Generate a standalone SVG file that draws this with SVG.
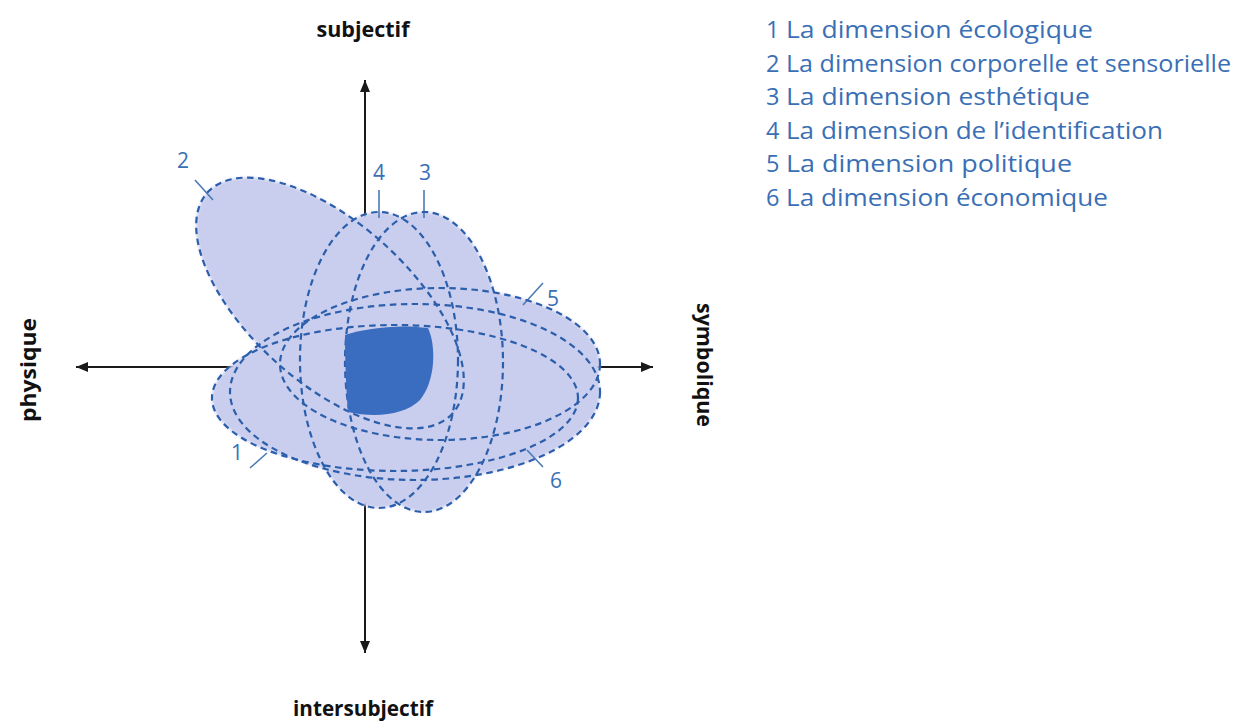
<svg xmlns="http://www.w3.org/2000/svg" width="1237" height="722" viewBox="0 0 1237 722">
<defs>
<style>
.fill{fill:#c9cdee;stroke:none}
.dash{fill:none;stroke:#2c5fab;stroke-width:2.2;stroke-dasharray:6.5 4.5}
.axis{stroke:#1a1a1a;stroke-width:2;fill:none}
.tick{stroke:#4a7ab5;stroke-width:1.6;fill:none}
.num{font-family:"Open Sans","Noto Sans",sans-serif;font-size:21px;fill:#3a6fb5}
.leg{font-family:"Open Sans","Noto Sans",sans-serif;font-size:23.5px;fill:#3a6fb5}
.ax{font-family:"Open Sans","Noto Sans",sans-serif;font-size:21px;font-weight:bold;fill:#111}
</style>
<marker id="ah" viewBox="0 0 12 10" refX="12" refY="5" markerWidth="12" markerHeight="10" markerUnits="userSpaceOnUse" orient="auto">
<path d="M0,0 L12,5 L0,10 z" fill="#1a1a1a"/>
</marker>
<filter id="soft" x="-10%" y="-10%" width="120%" height="120%"><feGaussianBlur stdDeviation="1.5"/></filter>
</defs>
<rect width="1237" height="722" fill="#fff"/>
<g id="axes">
<line class="axis" x1="365" y1="367" x2="365" y2="80" marker-end="url(#ah)"/>
<line class="axis" x1="365" y1="367" x2="365" y2="653" marker-end="url(#ah)"/>
<line class="axis" x1="365" y1="367" x2="76" y2="367" marker-end="url(#ah)"/>
<line class="axis" x1="365" y1="367" x2="653" y2="367" marker-end="url(#ah)"/>
</g>
<g id="fills" filter="url(#soft)">
<ellipse class="fill" cx="330" cy="303" rx="165" ry="80" transform="rotate(42 330 303)"/>
<ellipse class="fill" cx="379" cy="360" rx="79" ry="148"/>
<ellipse class="fill" cx="424" cy="362" rx="79" ry="150"/>
<ellipse class="fill" cx="395" cy="398" rx="183" ry="73"/>
<ellipse class="fill" cx="440" cy="364" rx="160" ry="76"/>
<ellipse class="fill" cx="415" cy="392" rx="185" ry="88"/>
</g>
<g id="connectors">
<line class="tick" x1="195" y1="180" x2="213" y2="200"/>
<line class="tick" x1="379" y1="190" x2="379" y2="218"/>
<line class="tick" x1="424" y1="190" x2="424" y2="218"/>
<line class="tick" x1="543" y1="283" x2="523" y2="305"/>
<line class="tick" x1="527" y1="450" x2="543" y2="467"/>
<line class="tick" x1="250" y1="468" x2="267" y2="453"/>
</g>
<g id="n2"><ellipse class="dash" cx="330" cy="303" rx="165" ry="80" transform="rotate(42 330 303)"/><text class="num" x="183" y="168" text-anchor="middle">2</text></g>
<g id="n4"><ellipse class="dash" cx="379" cy="360" rx="79" ry="148"/><text class="num" x="379" y="180" text-anchor="middle">4</text></g>
<g id="n3"><ellipse class="dash" cx="424" cy="362" rx="79" ry="150"/><text class="num" x="425" y="180" text-anchor="middle">3</text></g>
<g id="n1"><ellipse class="dash" cx="395" cy="398" rx="183" ry="73"/><text class="num" x="237" y="460" text-anchor="middle">1</text></g>
<g id="n5"><ellipse class="dash" cx="440" cy="364" rx="160" ry="76"/><text class="num" x="553" y="306" text-anchor="middle">5</text></g>
<g id="n6"><ellipse class="dash" cx="415" cy="392" rx="185" ry="88"/><text class="num" x="556" y="488" text-anchor="middle">6</text></g>
<g id="core"><path d="M345,335 C365,328 400,324 428,328 C436,345 436,380 420,400 C405,415 375,418 348,412 C346,390 345,360 345,335 z" fill="#3a6cc0"/></g>
<g id="labels">
<text class="ax" x="363" y="37" text-anchor="middle" textLength="93" lengthAdjust="spacingAndGlyphs">subjectif</text>
<text class="ax" x="363" y="716" text-anchor="middle" textLength="140" lengthAdjust="spacingAndGlyphs">intersubjectif</text>
<text class="ax" transform="translate(36 370) rotate(-90)" text-anchor="middle" textLength="104" lengthAdjust="spacingAndGlyphs">physique</text>
<text class="ax" transform="translate(697 365) rotate(90)" text-anchor="middle" textLength="124" lengthAdjust="spacingAndGlyphs">symbolique</text>
</g>
<g id="legend">
<text class="leg" x="766" y="38">1</text><text class="leg" x="786" y="38" textLength="307" lengthAdjust="spacingAndGlyphs">La dimension écologique</text>
<text class="leg" x="766" y="72">2</text><text class="leg" x="786" y="72" textLength="445" lengthAdjust="spacingAndGlyphs">La dimension corporelle et sensorielle</text>
<text class="leg" x="766" y="105">3</text><text class="leg" x="786" y="105" textLength="304" lengthAdjust="spacingAndGlyphs">La dimension esthétique</text>
<text class="leg" x="766" y="139">4</text><text class="leg" x="786" y="139" textLength="377" lengthAdjust="spacingAndGlyphs">La dimension de l’identification</text>
<text class="leg" x="766" y="172">5</text><text class="leg" x="786" y="172" textLength="286" lengthAdjust="spacingAndGlyphs">La dimension politique</text>
<text class="leg" x="766" y="206">6</text><text class="leg" x="786" y="206" textLength="322" lengthAdjust="spacingAndGlyphs">La dimension économique</text>
</g>
</svg>
